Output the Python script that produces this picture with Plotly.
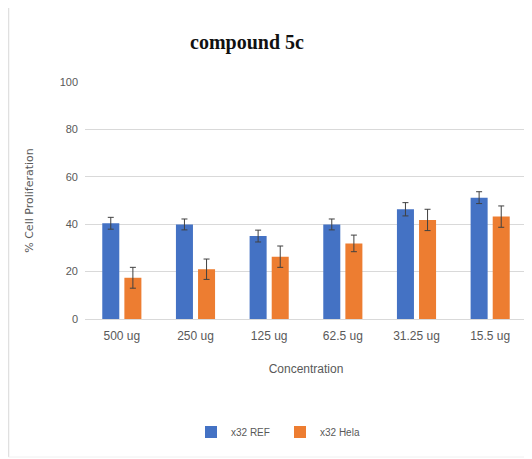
import plotly.graph_objects as go

categories = ["500 ug", "250 ug", "125 ug", "62.5 ug", "31.25 ug", "15.5 ug"]
ref_values = [40.4, 39.9, 35.0, 39.9, 46.3, 51.2]
ref_errors = [2.5, 2.3, 2.5, 2.3, 2.8, 2.5]
hela_values = [17.4, 21.0, 26.3, 31.9, 41.8, 43.2]
hela_errors = [4.4, 4.3, 4.5, 3.5, 4.5, 4.5]
y_ticks = [0, 20, 40, 60, 80, 100]

# page body has an 8px margin, so the figure is laid out in shifted coordinates
OFF = 8
W, H = 532 - OFF, 459 - OFF
L, R, T, B = 85 - OFF, 5, 82 - OFF, 459 - 319
PW, PH = W - L - R, H - T - B


def px_x(x):
    return (x - OFF - L) / PW


def px_y(y):
    return (H - B - (y - OFF)) / PH


fig = go.Figure()
fig.add_trace(go.Bar(
    x=categories, y=ref_values, name="x32 REF",
    marker=dict(color="#4472C4", line=dict(width=0)),
    error_y=dict(type="data", array=ref_errors, color="#404040", thickness=1, width=3),
))
fig.add_trace(go.Bar(
    x=categories, y=hela_values, name="x32 Hela",
    marker=dict(color="#ED7D31", line=dict(width=0)),
    error_y=dict(type="data", array=hela_errors, color="#404040", thickness=1, width=3),
))

sans = "Liberation Sans, Arial, sans-serif"

fig.update_layout(
    width=W, height=H,
    margin=dict(l=L, r=R, t=T, b=B, autoexpand=False),
    paper_bgcolor="white", plot_bgcolor="white",
    barmode="group", bargap=0.40, bargroupgap=0.23,
    title=dict(text="<b>compound 5c</b>", x=(247 - OFF) / W, xanchor="center",
               y=1 - (42 - OFF) / H, yanchor="middle",
               font=dict(family="Liberation Serif, Times New Roman, serif", size=20, color="#111111")),
    font=dict(family=sans, color="#595959", size=11),
    showlegend=True,
    legend=dict(orientation="h", x=px_x(280), xref="paper", xanchor="center",
                y=px_y(432), yanchor="middle",
                font=dict(family=sans, size=10, color="#595959"),
                itemwidth=30, entrywidth=44, traceorder="normal"),
    xaxis=dict(showgrid=False, showline=True, linecolor="#D9D9D9", linewidth=1,
               ticks="", ticklabelstandoff=6, tickfont=dict(family=sans, size=12, color="#595959"),
               title=dict(text="Concentration", standoff=22,
                          font=dict(family=sans, size=12, color="#595959"))),
    yaxis=dict(range=[0, 100], tickvals=y_ticks, showgrid=True, gridcolor="#D9D9D9",
               gridwidth=1, zeroline=False, showline=False, ticks="",
               tickfont=dict(family=sans, size=11, color="#595959"), ticklabelstandoff=6,
               title=dict(text="% Cell Proliferation", standoff=23,
                          font=dict(family="DejaVu Sans, sans-serif", size=11, color="#595959"))),
    shapes=[
        dict(type="line", xref="paper", yref="paper",
             x0=px_x(8.5), x1=px_x(8.5), y0=px_y(457), y1=px_y(5),
             line=dict(color="#E0E0E0", width=1.5)),
        dict(type="line", xref="paper", yref="paper",
             x0=px_x(8.5), x1=px_x(532), y0=px_y(457), y1=px_y(457),
             line=dict(color="#F0F0F0", width=1)),
    ],
)

fig.write_html("out.html")
